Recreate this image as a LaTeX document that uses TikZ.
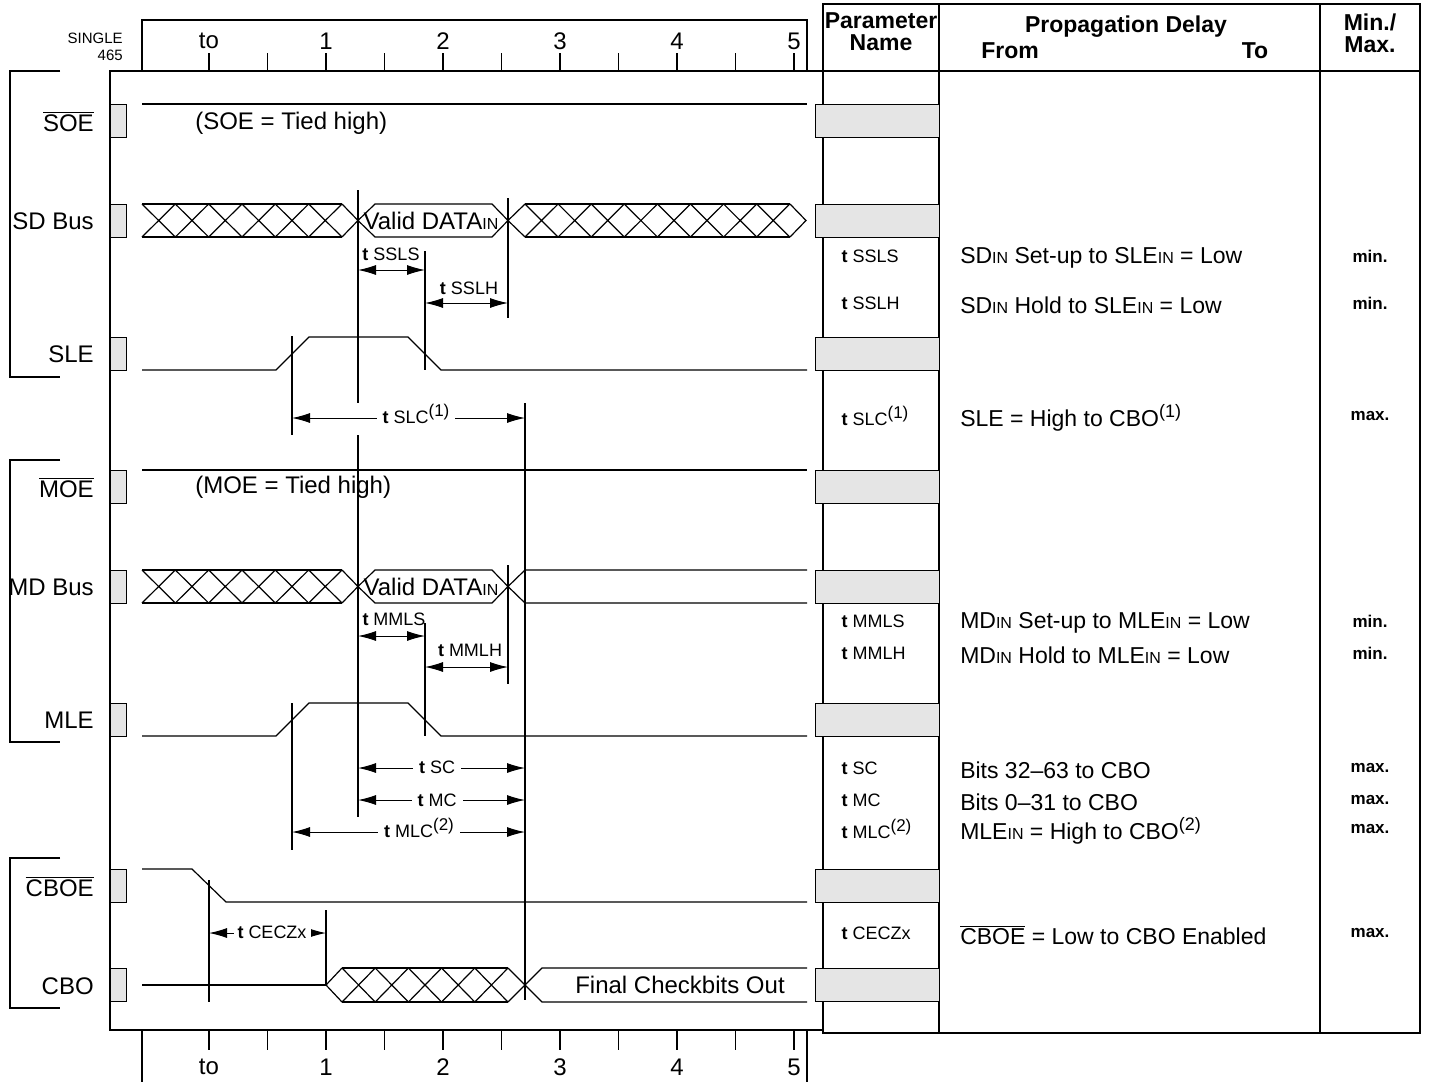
\documentclass[tikz,border=0pt]{standalone}
\usepackage{fontspec}
\setmainfont{Liberation Sans}
\usetikzlibrary{positioning,arrows.meta}

\newcommand{\sigbar}[1]{$\overline{\mbox{#1}}$}
\newcommand{\insub}[1]{{\fontsize{8}{8}\selectfont #1}}
\newcommand{\upn}[2]{\raisebox{0.42em}{\fontsize{#1}{#1}\selectfont(#2)}}
% hatched bus cells: x0, count, width, top, bottom
\newcommand{\xcells}[5]{%
  \foreach \k in {1,...,#2}{\draw ({#1+(\k-1)*#3},#4) -- ({#1+\k*#3},#5) ({#1+(\k-1)*#3},#5) -- ({#1+\k*#3},#4);}
  \draw (#1,#4) -- ({#1+#2*#3},#4) (#1,#5) -- ({#1+#2*#3},#5);}

\begin{document}
\begin{tikzpicture}[x=0.5pt, y=-0.5pt, line width=0.6pt,
    gbox/.style={draw, fill=black!10, line width=0.5pt, minimum width=8pt, minimum height=16.5pt, inner sep=0pt},
    sname/.style={anchor=east, font=\fontsize{12}{14}\selectfont},
    big/.style={font=\fontsize{12}{14}\selectfont},
    tlab/.style={font=\fontsize{9}{10}\selectfont, inner sep=1pt},
    desc/.style={anchor=west, font=\fontsize{11.5}{13}\selectfont},
    mm/.style={font=\bfseries\fontsize{8.5}{10}\selectfont},
    head/.style={font=\bfseries\fontsize{11.5}{11}\selectfont, align=center},
    dim/.style={{Latex[length=9pt,width=5pt]}-{Latex[length=9pt,width=5pt]}, line width=0.5pt}]

\useasboundingbox (0,0) rectangle (1429,1082);

% rulers
\node[font=\fontsize{7.5}{8}\selectfont, anchor=east] (single) at (130,38) {SINGLE};
\node[font=\fontsize{7.5}{8}\selectfont, anchor=east] (num) at (130,55) {465};
\draw (142,71) -- (142,20) -- (807,20) -- (807,71);
\draw (142,1030) -- (142,1082) (807,1030) -- (807,1082);
\foreach \x in {209,267.5,...,795} {
  \draw (\x,53) -- (\x,71);
  \draw (\x,1030) -- (\x,1050);
}
\foreach \x/\t in {209/to,326/1,443/2,560/3,677/4,794/5} {
  \node[big] (top\t) at (\x,41) {\t};
  \node[big] (bot\t) at (\x,1067) {\t};
}

% panel and brackets
\draw (823,71) -- (110,71) -- (110,1030) -- (823,1030);
\draw (60,71) -- (10,71) -- (10,377) -- (60,377);
\draw (60,460) -- (10,460) -- (10,742) -- (60,742);
\draw (60,858) -- (10,858) -- (10,1008) -- (60,1008);

% table
\draw (823,4) rectangle (1420,1033);
\draw (823,71) -- (1420,71) (939,4) -- (939,1033) (1320,4) -- (1320,1033);
\node[head] (hpar) at (881,32) {Parameter\\Name};
\node[head] (hprop) at (1126,27) {Propagation Delay};
\node[head] (hfrom) at (1010,51) {From};
\node[head] (hto) at (1255,51) {To};
\node[head] (hmm) at (1370,33) {Min./\\Max.};

% signal rows
\foreach \n/\yc/\txt in {soe/120.5/\sigbar{SOE}, sd/220.5/SD Bus, sle/353.5/SLE,
    moe/486.5/\sigbar{MOE}, md/586.5/MD Bus, mle/719.5/MLE,
    cboe/885.5/\sigbar{CBOE}, cbo/985/CBO} {
  \node[gbox] (\n L) at (118,\yc) {};
  \node[gbox, minimum width=62pt] (\n R) at (877,\yc) {};
  \node[sname] (\n N) at (101,\yc+1) {\txt};
}

% SOE / MOE
\draw (142,104) -- (807,104);
\node[big, anchor=west] (soeT) at (188,123) {(SOE = Tied high)};
\draw (142,470) -- (807,470);
\node[big, anchor=west] (moeT) at (188,487) {(MOE = Tied high)};

% SD bus
\xcells{142}{6}{33.33}{204}{237}
\draw (342,204) -- (358,220.5) -- (342,237);
\draw (358,220.5) -- (375,204) -- (492,204) -- (508,220.5) -- (492,237) -- (375,237) -- cycle;
\node[big] (sdV) at (431,221) {Valid DATA\insub{IN}};
\draw (508,220.5) -- (525,204) (508,220.5) -- (525,237);
\xcells{525}{8}{33.1}{204}{237}
\draw (790,204) -- (806,220.5) -- (790,237);

% SLE
\draw (142,370) -- (276,370) -- (309,337) -- (408,337) -- (441,370) -- (807,370);

% MD bus
\xcells{142}{6}{33.33}{570}{603}
\draw (342,570) -- (358,586.5) -- (342,603);
\draw (358,586.5) -- (375,570) -- (492,570) -- (508,586.5) -- (492,603) -- (375,603) -- cycle;
\node[big] (mdV) at (431,587) {Valid DATA\insub{IN}};
\draw (508,586.5) -- (525,570) -- (807,570) (508,586.5) -- (525,603) -- (807,603);

% MLE
\draw (142,736) -- (276,736) -- (309,703) -- (408,703) -- (441,736) -- (807,736);

% CBOE / CBO
\draw (142,869) -- (192,869) -- (226,902) -- (807,902);
\draw[line width=1.1pt] (142,985) -- (326,985);
\draw (326,985) -- (342,968) (326,985) -- (342,1002);
\xcells{342}{5}{33.2}{968}{1002}
\draw (508,968) -- (525,985) -- (508,1002);
\draw (525,985) -- (542,968) -- (807,968) (525,985) -- (542,1002) -- (807,1002);
\node[big] (cboT) at (680,985) {Final Checkbits Out};

% timing marks
\coordinate (ta) at (292,0);
\coordinate (tb) at (358,0);
\coordinate (tc) at (425,0);
\coordinate (td) at (508,0);
\coordinate (te) at (525,0);
\coordinate (tf) at (209,0);
\coordinate (tg) at (326,0);
\draw (tb |- 0,190) -- (tb |- 0,403) (tb |- 0,435) -- (tb |- 0,817);
\draw (tc |- 0,251) -- (tc |- 0,370) (tc |- 0,623) -- (tc |- 0,736);
\draw (td |- 0,198) -- (td |- 0,318) (td |- 0,565) -- (td |- 0,684);
\draw (ta |- 0,336) -- (ta |- 0,435) (ta |- 0,703) -- (ta |- 0,850);
\draw (te |- 0,403) -- (te |- 0,1000);
\draw (tf |- 0,880) -- (tf |- 0,1002);
\draw (tg |- 0,910) -- (tg |- 0,985);

\draw[dim] (tb |- 0,270) -- (tc |- 0,270);
\node[tlab] (lSSLS) at (391,254) {\textbf{t} SSLS};
\draw[dim] (tc |- 0,303) -- (td |- 0,303);
\node[tlab] (lSSLH) at (469,288) {\textbf{t} SSLH};
\draw[dim] (ta |- 0,418) -- (te |- 0,418);
\node[tlab, fill=white, inner sep=3pt] (lSLC) at (416,414) {\textbf{t} SLC\upn{8.5}{1}};
\draw[dim] (tb |- 0,636) -- (tc |- 0,636);
\node[tlab] (lMMLS) at (394,619) {\textbf{t} MMLS};
\draw[dim] (tc |- 0,667) -- (td |- 0,667);
\node[tlab] (lMMLH) at (470,650) {\textbf{t} MMLH};
\draw[dim] (tb |- 0,768) -- (te |- 0,768);
\node[tlab, fill=white, inner sep=3pt] (lSC) at (437,767) {\textbf{t} SC};
\draw[dim] (tb |- 0,800) -- (te |- 0,800);
\node[tlab, fill=white, inner sep=3pt] (lMC) at (437,800) {\textbf{t} MC};
\draw[dim] (ta |- 0,832) -- (te |- 0,832);
\node[tlab, fill=white, inner sep=3pt] (lMLC) at (419,828) {\textbf{t} MLC\upn{8.5}{2}};
\draw[dim] (tf |- 0,933) -- (tg |- 0,933);
\node[tlab, fill=white, inner sep=2pt] (lCECZ) at (272,932) {\textbf{t} CECZx};

% table rows
\foreach \y/\p/\d/\m [count=\i] in {
    256/{\textbf{t} SSLS}/{SD\insub{IN} Set-up to SLE\insub{IN} = Low}/min.,
    303/{\textbf{t} SSLH}/{SD\insub{IN} Hold to SLE\insub{IN} = Low}/min.,
    416/{\textbf{t} SLC\upn{8.5}{1}}/{SLE = High to CBO\upn{9}{1}}/max.,
    621/{\textbf{t} MMLS}/{MD\insub{IN} Set-up to MLE\insub{IN} = Low}/min.,
    653/{\textbf{t} MMLH}/{MD\insub{IN} Hold to MLE\insub{IN} = Low}/min.,
    768/{\textbf{t} SC}/{Bits 32--63 to CBO}/max.,
    800/{\textbf{t} MC}/{Bits 0--31 to CBO}/max.,
    829/{\textbf{t} MLC\upn{8.5}{2}}/{MLE\insub{IN} = High to CBO\upn{9}{2}}/max.,
    933/{\textbf{t} CECZx}/{\sigbar{CBOE} = Low to CBO Enabled}/max.} {
  \node[tlab, anchor=west] (par\i) at (839,\y) {\p};
  \node[desc] (dsc\i) at (953,\y+2) {\d};
  \node[mm] (mm\i) at (1370,\y) {\m};
}
\end{tikzpicture}
\end{document}
